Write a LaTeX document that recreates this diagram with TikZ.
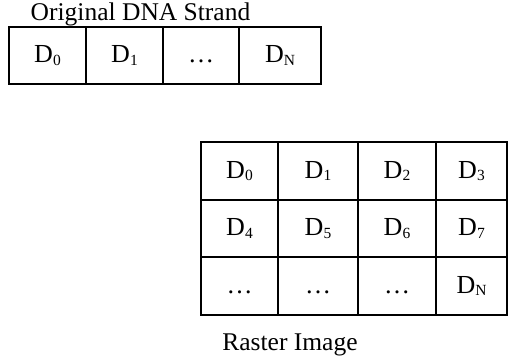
\documentclass[tikz,border=0pt]{standalone}
\usepackage{fontspec}
\setmainfont{Liberation Serif}
\newcommand{\dsub}[1]{D{\fontsize{15.5}{15.5}\selectfont\raisebox{-2.5pt}{#1}}}
\newcommand{\celldots}{\vphantom{\dsub{0}}…}
\tikzset{
  cell/.style={draw, line width=1.4pt, inner sep=0pt, outer sep=0pt,
    font=\fontsize{26}{30}\selectfont},
  caption/.style={anchor=base, inner sep=0pt, font=\fontsize{25.5}{30}\selectfont}
}
\begin{document}
\begin{tikzpicture}[x=1pt,y=-1pt]
\useasboundingbox (0,0) rectangle (508,358);
% Original strand: one row of cells
\node[caption] (strandlabel) at (140.5,21) {Original DNA Strand};
\node[cell, minimum width=77pt, minimum height=57pt] (s0) at (47.5,55.5) {\dsub{0}};
\node[cell, minimum width=77pt, minimum height=57pt] (s1) at (124.5,55.5) {\dsub{1}};
\node[cell, minimum width=76pt, minimum height=57pt] (s2) at (201,55.5) {\celldots};
\node[cell, minimum width=82pt, minimum height=57pt] (s3) at (280,55.5) {\dsub{N}};
% Raster image: 3 x 4 grid
\node[cell, minimum width=77pt, minimum height=58pt] (r00) at (239.5,171) {\dsub{0}};
\node[cell, minimum width=80pt, minimum height=58pt] (r01) at (318,171) {\dsub{1}};
\node[cell, minimum width=78pt, minimum height=58pt] (r02) at (397,171) {\dsub{2}};
\node[cell, minimum width=71pt, minimum height=58pt] (r03) at (471.5,171) {\dsub{3}};
\node[cell, minimum width=77pt, minimum height=57pt] (r10) at (239.5,228.5) {\dsub{4}};
\node[cell, minimum width=80pt, minimum height=57pt] (r11) at (318,228.5) {\dsub{5}};
\node[cell, minimum width=78pt, minimum height=57pt] (r12) at (397,228.5) {\dsub{6}};
\node[cell, minimum width=71pt, minimum height=57pt] (r13) at (471.5,228.5) {\dsub{7}};
\node[cell, minimum width=77pt, minimum height=58pt] (r20) at (239.5,286) {\celldots};
\node[cell, minimum width=80pt, minimum height=58pt] (r21) at (318,286) {\celldots};
\node[cell, minimum width=78pt, minimum height=58pt] (r22) at (397,286) {\celldots};
\node[cell, minimum width=71pt, minimum height=58pt] (r23) at (471.5,286) {\dsub{N}};
\node[caption] (rasterlabel) at (290,350) {Raster Image};
\end{tikzpicture}
\end{document}
